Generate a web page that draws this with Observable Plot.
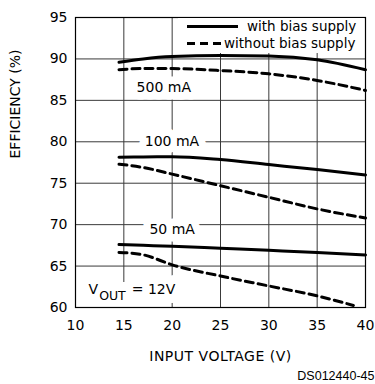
<!DOCTYPE html>
<html><head><meta charset="utf-8">
<script src="https://cdn.jsdelivr.net/npm/d3@7"></script>
<script src="https://cdn.jsdelivr.net/npm/@observablehq/plot@0.6"></script>
<style>
body{margin:0;background:#fff;}
#wrap{position:relative;width:375px;height:384px;}
#wrap svg{overflow:visible;}
#leg{position:absolute;left:178px;top:18px;}
</style></head><body><div id="wrap"></div>
<script>
// Input voltage (V)
const vin = [14.5, 17, 20, 25, 30, 35, 40];
const vinShort = [14.5, 17, 20, 25, 30, 35, 38.75];
// Efficiency (%)
const eff500With    = [89.6, 90.0, 90.28, 90.4, 90.35, 89.9, 88.7];
const eff500Without = [88.7, 88.84, 88.83, 88.6, 88.2, 87.4, 86.2];
const eff100With    = [78.13, 78.17, 78.2, 77.85, 77.25, 76.65, 76.0];
const eff100Without = [77.3, 76.9, 76.1, 74.7, 73.3, 71.9, 70.8];
const eff50With     = [67.6, 67.5, 67.4, 67.15, 66.9, 66.65, 66.35];
const eff50Without  = [66.65, 66.36, 65.15, 63.8, 62.6, 61.4, 60.25];
// Load current labels
const loadLabels = ["500 mA", "100 mA", "50 mA"];
const loadLabelX = [19.13, 19.98, 20.0];
const loadLabelY = [86.6, 80.0, 69.4];
// Ticks
const xTicks = [10, 15, 20, 25, 30, 35, 40];
const yTicks = [60, 65, 70, 75, 80, 85, 90, 95];
// Text
const legendLabels = ["with bias supply", "without bias supply"];
const voutParts = ["V", "OUT", "= 12V"];
const voutPos = [11.35, 62.2];
const xTitle = "INPUT VOLTAGE (V)";
const yTitle = "EFFICIENCY (%)";
const figId = "DS012440-45";

const series = [
  {key: "500w", bias: "with", x: vin, y: eff500With},
  {key: "500o", bias: "without", x: vin, y: eff500Without},
  {key: "100w", bias: "with", x: vin, y: eff100With},
  {key: "100o", bias: "without", x: vin, y: eff100Without},
  {key: "50w", bias: "with", x: vin, y: eff50With},
  {key: "50o", bias: "without", x: vinShort, y: eff50Without}
];
const rows = series.flatMap(s => s.x.map((x, i) => ({key: s.key, bias: s.bias, x, y: s.y[i]})));
const labels = loadLabels.map((t, i) => ({text: t, x: loadLabelX[i], y: loadLabelY[i]}));
const voutText = voutParts.join(" ");

const font = "DejaVu Sans, sans-serif";
const gridStroke = "#3a3a3a";

const svg = Plot.plot({
  width: 375, height: 384,
  marginLeft: 75, marginRight: 10, marginTop: 17, marginBottom: 77,
  style: {fontFamily: font, fontSize: "14px", background: "#fff", color: "#000"},
  x: {domain: [10, 40], label: null},
  y: {domain: [60, 95], label: null},
  marks: [
    Plot.gridX(xTicks.slice(1, -1), {stroke: gridStroke, strokeOpacity: 1, strokeWidth: 1}),
    Plot.gridY(yTicks.slice(1, -1), {stroke: gridStroke, strokeOpacity: 1, strokeWidth: 1}),
    Plot.text(labels, {x: "x", y: "y", text: "text", fontSize: 14, fill: "#000",
      stroke: "#fff", strokeWidth: 15, strokeLinejoin: "round", paintOrder: "stroke"}),
    // white backing for the V_OUT note
    Plot.text([voutText], {x: () => voutPos[0], y: () => voutPos[1], text: d => d, textAnchor: "start",
      fontSize: 14, fill: "#fff", stroke: "#fff", strokeWidth: 18, strokeLinejoin: "round"}),
    Plot.text([voutText], {x: () => voutPos[0], y: () => voutPos[1], text: d => d, textAnchor: "start",
      fontSize: 14, fill: "#000"}),
    Plot.line(rows.filter(d => d.bias === "with"), {x: "x", y: "y", z: "key", stroke: "#000", strokeWidth: 3, curve: "monotone-x"}),
    Plot.line(rows.filter(d => d.bias === "without"), {x: "x", y: "y", z: "key", stroke: "#000", strokeWidth: 3, strokeDasharray: "8,5", curve: "monotone-x"}),
    Plot.frame({stroke: "#000", strokeWidth: 1.2}),
    Plot.axisX(xTicks, {tickSize: 0, tickPadding: 13, fontSize: 14, label: null}),
    Plot.axisY(yTicks, {tickSize: 0, tickPadding: 8, fontSize: 14, label: null}),
    Plot.text([xTitle], {frameAnchor: "bottom", dy: 53, text: d => d, fontSize: 14, fill: "#000"}),
    Plot.text([yTitle], {frameAnchor: "left", dx: -60, dy: -4, rotate: -90, text: d => d, fontSize: 14, fill: "#000"}),
    Plot.text([figId], {frameAnchor: "bottom-right", dx: 9, dy: 72, textAnchor: "end", text: d => d,
      fontSize: 12.5, fontFamily: "Liberation Sans, Arial, sans-serif", fill: "#000"})
  ]
});

d3.select(svg).selectAll("text").each(function() {
  const t = d3.select(this);
  if (t.text() === xTitle) t.style("letter-spacing", "0.5px");
});
// V_OUT subscript
d3.select(svg).selectAll("text").filter(function() { return this.textContent === voutText; }).each(function() {
  const t = d3.select(this);
  t.text(null);
  t.append("tspan").text(voutParts[0]);
  t.append("tspan").attr("dy", 6).attr("dx", 1).attr("font-size", 12.5).text(voutParts[1]);
  t.append("tspan").attr("dy", -6).attr("dx", 6).text(voutParts[2]);
});

const wrap = document.getElementById("wrap");
wrap.appendChild(svg);

// legend
const leg = d3.select(wrap).append("svg").attr("id", "leg").attr("width", 186).attr("height", 35)
  .style("font-family", font).style("font-size", "13.5px");
leg.append("rect").attr("width", 186).attr("height", 35).attr("fill", "#fff");
const rowsY = [8.5, 25.5];
const sampleEnd = [60, 44];
const textStart = [69, 46];
legendLabels.forEach((lab, i) => {
  leg.append("line").attr("x1", 9).attr("x2", sampleEnd[i]).attr("y1", rowsY[i]).attr("y2", rowsY[i])
    .attr("stroke", "#000").attr("stroke-width", 3).attr("stroke-dasharray", i === 1 ? "8,5" : null);
  leg.append("text").attr("x", textStart[i]).attr("y", rowsY[i]).attr("dy", "0.35em").attr("fill", "#000").text(lab);
});
</script>
</body></html>
